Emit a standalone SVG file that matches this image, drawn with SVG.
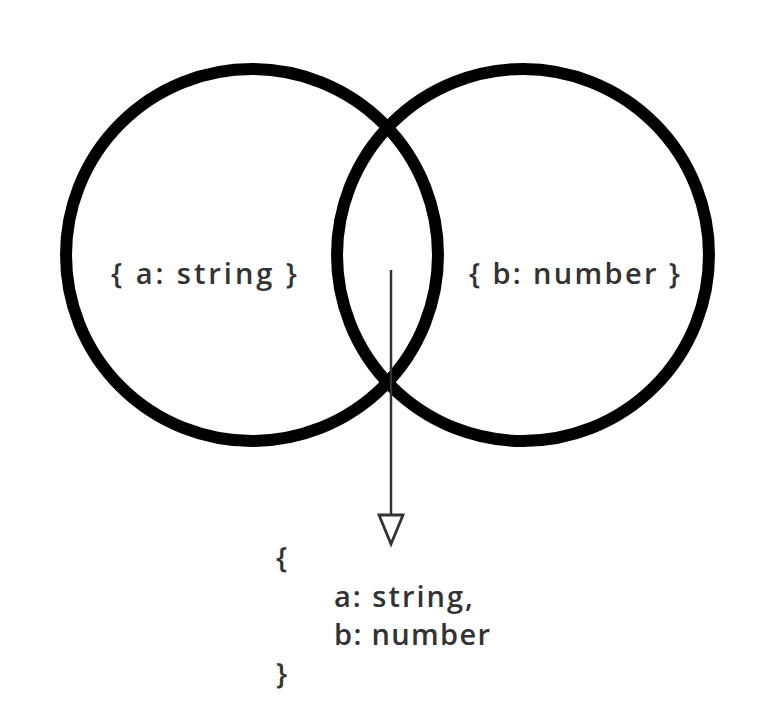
<svg xmlns="http://www.w3.org/2000/svg" width="775" height="722" viewBox="0 0 775 722">
  <style>
    .set { fill: none; stroke: #000; stroke-width: 12; }
    .label { font-family: "Open Sans", "Liberation Sans", sans-serif; font-size: 29px; font-weight: 600; fill: #333; }
    .edge { stroke: #333; stroke-width: 2.5; fill: none; }
    .head { fill: #fff; stroke: #333; stroke-width: 2.8; }
  </style>
  <rect width="775" height="722" fill="#fff"/>
  <g id="setA">
    <circle class="set" cx="252" cy="255" r="186"/>
    <text class="label" x="111" y="284" textLength="186" lengthAdjust="spacing">{ a: string }</text>
  </g>
  <g id="setB">
    <circle class="set" cx="523" cy="255" r="186"/>
    <text class="label" x="469" y="284" textLength="211" lengthAdjust="spacing">{ b: number }</text>
  </g>
  <g id="connectors">
    <path class="edge" d="M391,270 V516"/>
    <path class="head" d="M379,515 L403,515 L391,544 Z"/>
  </g>
  <g id="result">
    <text class="label" x="276" y="568">{</text>
    <text class="label" x="334" y="607" textLength="139" lengthAdjust="spacing">a: string,</text>
    <text class="label" x="334" y="645" textLength="156" lengthAdjust="spacing">b: number</text>
    <text class="label" x="276" y="684">}</text>
  </g>
</svg>
